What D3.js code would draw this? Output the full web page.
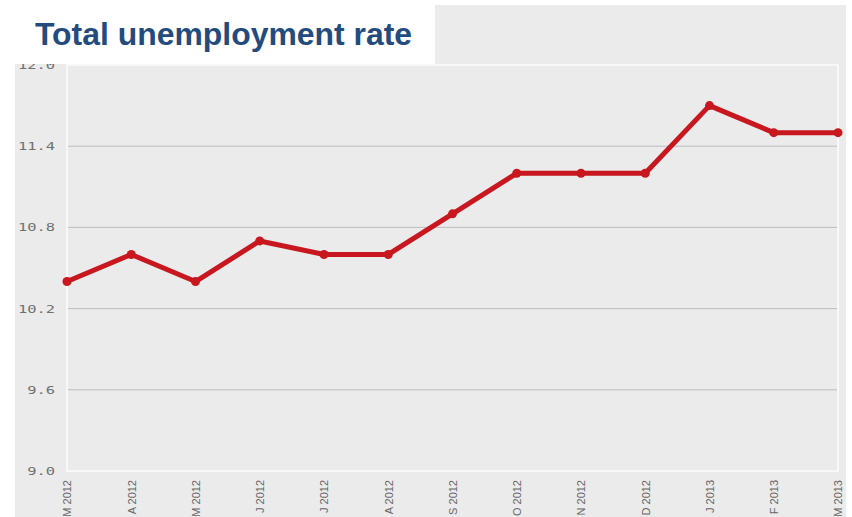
<!DOCTYPE html>
<html><head><meta charset="utf-8">
<script src="https://cdn.jsdelivr.net/npm/d3@7"></script>
<style>body{margin:0;background:#fff;}svg{display:block;}</style>
</head><body>
<script>
const months = ["M 2012","A 2012","M 2012","J 2012","J 2012","A 2012","S 2012","O 2012","N 2012","D 2012","J 2013","F 2013","M 2013"];
const rates = [10.4,10.6,10.4,10.7,10.6,10.6,10.9,11.2,11.2,11.2,11.7,11.5,11.5];
const yTicks = [9.0,9.6,10.2,10.8,11.4,12.0];
const title = "Total unemployment rate";

const W=852,H=517;
const svg=d3.select("body").append("svg").attr("width",W).attr("height",H);
svg.append("rect").attr("x",15).attr("y",5).attr("width",831).attr("height",H-5).attr("fill","#ebebeb");
const m={left:67,right:838,top:65,bottom:471};
const x=d3.scalePoint().domain(d3.range(months.length)).range([m.left,m.right]);
const y=d3.scaleLinear().domain([9,12]).range([m.bottom,m.top]);

// gridlines
svg.append("g").selectAll("line").data(yTicks.slice(1,-1)).join("line")
  .attr("x1",m.left).attr("x2",m.right).attr("y1",d=>y(d)).attr("y2",d=>y(d))
  .attr("stroke","#bdbdbd").attr("stroke-width",1);
// frame
svg.append("rect").attr("x",m.left).attr("y",m.top).attr("width",m.right-m.left).attr("height",m.bottom-m.top)
  .attr("fill","none").attr("stroke","#f8f8f8").attr("stroke-width",2);

// y axis
const ya=svg.append("g").attr("transform",`translate(${m.left},0)`)
  .call(d3.axisLeft(y).tickValues(yTicks).tickFormat(d3.format(".1f")).tickSize(0));
ya.select(".domain").remove();
ya.selectAll("text").attr("fill","#707070").style("font-family","DejaVu Sans Mono, monospace").style("font-size","11px")
  .attr("x",0).attr("transform","translate(-12,0) scale(1.4,1)");

// x axis
const xa=svg.append("g").attr("transform",`translate(0,${m.bottom})`)
  .call(d3.axisBottom(x).tickFormat(i=>months[i]).tickSize(0));
xa.select(".domain").remove();
xa.selectAll("text").attr("fill","#666").style("font-family","Liberation Sans, Arial").style("font-size","11px")
  .attr("text-anchor","end").attr("transform","rotate(-90)").attr("x",-9).attr("y",0).attr("dy","0.35em");

// line
const line=d3.line().x((d,i)=>x(i)).y(d=>y(d));
svg.append("path").datum(rates).attr("d",line).attr("fill","none").attr("stroke","#c8171e")
  .attr("stroke-width",5).attr("stroke-linejoin","round");
svg.append("g").selectAll("circle").data(rates).join("circle")
  .attr("cx",(d,i)=>x(i)).attr("cy",d=>y(d)).attr("r",4.5).attr("fill","#c8171e");

// title box
svg.append("rect").attr("x",0).attr("y",0).attr("width",435).attr("height",64).attr("fill","#fff");
svg.append("text").attr("x",35).attr("y",45).text(title)
  .attr("textLength",377).attr("lengthAdjust","spacingAndGlyphs")
  .attr("fill","#234b7d").style("font-family","Liberation Sans, Arial").style("font-weight","bold").style("font-size","31px");
</script>
</body></html>
